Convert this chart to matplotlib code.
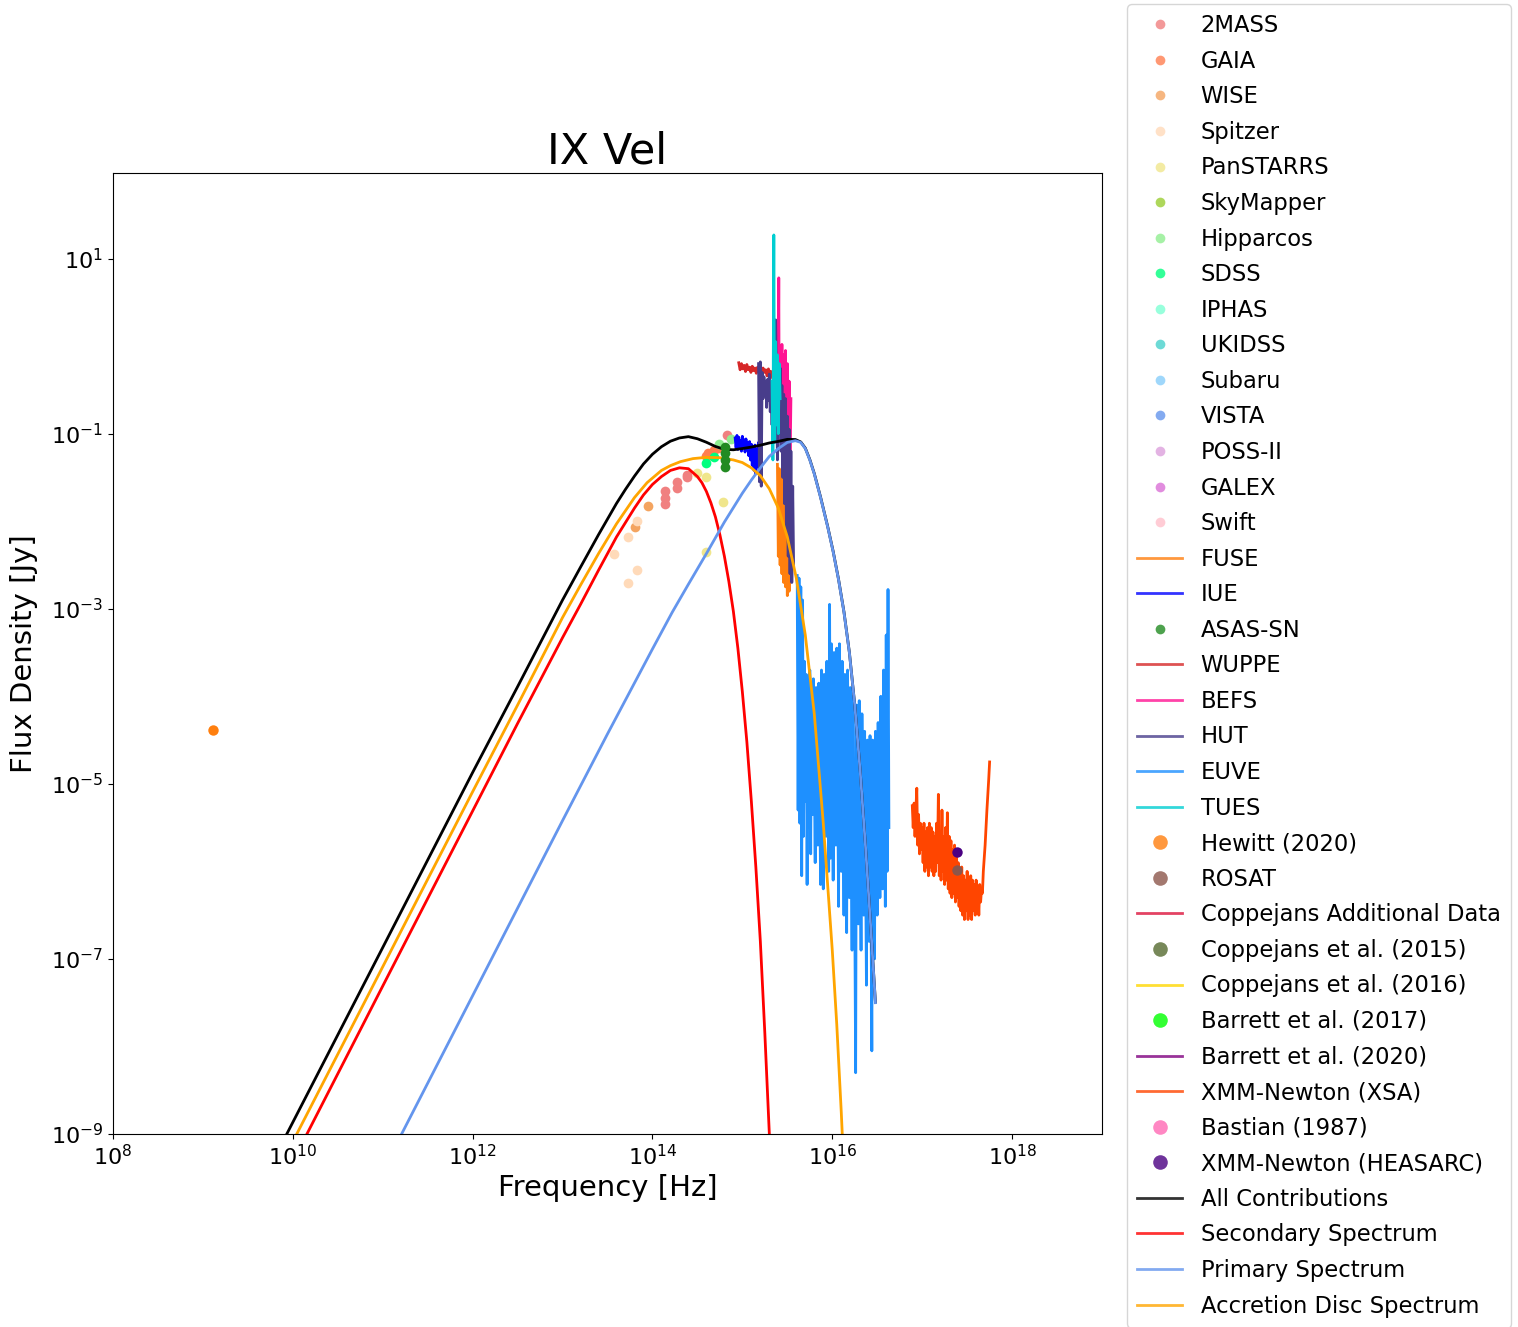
import numpy as np
import matplotlib
matplotlib.use("Agg")
import matplotlib.pyplot as plt
from matplotlib.ticker import FixedLocator, NullLocator, LogFormatterSciNotation

# ---------------------------------------------------------------------------
# Photometry (log10 frequency [Hz], log10 flux density [Jy])
# ---------------------------------------------------------------------------
twomass_lognu = [14.14, 14.14, 14.14, 14.27, 14.27, 14.38, 14.38, 14.83]
twomass_logf = [-1.66, -1.73, -1.80, -1.55, -1.62, -1.47, -1.50, -1.02]

gaia_lognu = [14.59, 14.62, 14.64, 14.68, 14.73]
gaia_logf = [-1.26, -1.22, -1.24, -1.19, -1.16]

wise_lognu = [13.81, 13.95]
wise_logf = [-2.07, -1.83]

spitzer_lognu = [13.57, 13.73, 13.83, 13.73, 13.83]
spitzer_logf = [-2.37, -2.18, -2.00, -2.71, -2.56]

panstarrs_lognu = [14.50, 14.60, 14.79, 14.60]
panstarrs_logf = [-1.45, -1.49, -1.78, -2.35]

hipparcos_lognu = [14.74, 14.87]
hipparcos_logf = [-1.12, -1.06]

sdss_lognu = [14.60, 14.68]
sdss_logf = [-1.34, -1.27]

asassn_lognu = [14.81, 14.81, 14.81, 14.81]
asassn_logf = [-1.15, -1.22, -1.30, -1.38]

hewitt_lognu = [9.11]
hewitt_logf = [-4.38]

rosat_lognu = [17.39]
rosat_logf = [-5.98]

heasarc_lognu = [17.39]
heasarc_logf = [-5.78]

# ---------------------------------------------------------------------------
# Spectra (log10 frequency [Hz], log10 flux density [Jy])
# ---------------------------------------------------------------------------
fuse_lognu = [15.39, 15.40, 15.41, 15.42, 15.43, 15.44, 15.45, 15.46, 15.47,
              15.48, 15.49, 15.50, 15.51, 15.52, 15.53]
fuse_logf = [-1.35, -2.40, -1.40, -2.50, -1.45, -2.60, -1.50, -2.70, -1.55,
             -2.75, -1.70, -2.85, -1.90, -2.80, -2.20]

iue_lognu = [14.92, 14.93, 14.94, 14.95, 14.96, 14.97, 14.98, 14.99, 15.00,
             15.01, 15.02, 15.03, 15.04, 15.05, 15.06, 15.07, 15.08, 15.09,
             15.10, 15.11, 15.12, 15.13, 15.14, 15.15, 15.16, 15.17, 15.18,
             15.19, 15.20]
iue_logf = [-1.05, -1.16, -1.02, -1.18, -1.04, -1.15, -1.08, -1.20, -1.03,
            -1.14, -1.07, -1.21, -1.06, -1.17, -1.10, -1.25, -1.09, -1.30,
            -1.12, -1.36, -1.15, -1.42, -1.13, -1.46, -1.18, -1.38, -1.10,
            -1.33, -1.08]

wuppe_lognu = [14.96, 14.975, 14.99, 15.005, 15.02, 15.035, 15.05, 15.065,
               15.08, 15.095, 15.11, 15.125, 15.14, 15.155, 15.17, 15.185,
               15.20, 15.215, 15.23, 15.245, 15.26, 15.275, 15.29, 15.305,
               15.32, 15.335]
wuppe_logf = [-0.19, -0.27, -0.20, -0.26, -0.22, -0.29, -0.21, -0.27, -0.24,
              -0.30, -0.23, -0.28, -0.25, -0.31, -0.24, -0.29, -0.26, -0.33,
              -0.25, -0.30, -0.27, -0.34, -0.26, -0.31, -0.29, -0.36]

befs_lognu = [15.400, 15.405, 15.41, 15.42, 15.43, 15.44, 15.45, 15.46, 15.47,
              15.48, 15.49, 15.50, 15.51, 15.52, 15.53, 15.54]
befs_logf = [-0.20, 0.78, -0.90, -0.05, -1.10, 0.02, -1.30, -0.10, -1.40,
             -0.05, -1.20, -0.20, -1.35, -0.40, -1.40, -0.60]

hut_lognu = [15.18, 15.19, 15.20, 15.21, 15.22, 15.23, 15.24, 15.25, 15.26,
             15.27, 15.28, 15.29, 15.30, 15.31, 15.32, 15.33, 15.34, 15.35,
             15.36, 15.37, 15.38, 15.39, 15.40, 15.41, 15.42, 15.43, 15.44,
             15.45, 15.46, 15.47, 15.48, 15.49, 15.50, 15.51, 15.52, 15.53,
             15.54, 15.55, 15.56, 15.57]
hut_logf = [-0.20, -1.55, -0.18, -1.60, -0.30, -0.60, -0.35, -0.55, -0.40,
            -0.70, -0.38, -0.62, -0.32, -0.75, -0.45, -0.90, -0.40, -1.10,
            -0.20, 0.30, -0.50, -1.30, -0.35, -1.00, -0.25, -1.20, -0.45,
            -1.50, -0.55, -1.80, -0.60, -2.10, -0.80, -2.40, -0.95, -2.60,
            -1.20, -2.70, -1.60, -2.50]

euve_lognu = [15.61, 15.62, 15.63, 15.64, 15.65, 15.66, 15.67, 15.68, 15.69,
              15.70, 15.71, 15.72, 15.73, 15.74, 15.75, 15.76, 15.77, 15.78,
              15.79, 15.81, 15.82, 15.84, 15.85, 15.87, 15.88, 15.90, 15.91,
              15.93, 15.94, 15.96, 15.97, 15.98, 15.99, 16.01, 16.02, 16.04,
              16.05, 16.07, 16.08, 16.10, 16.11, 16.13, 16.14, 16.16, 16.17,
              16.19, 16.20, 16.22, 16.23, 16.25, 16.26, 16.27, 16.29, 16.30,
              16.32, 16.33, 16.35, 16.36, 16.38, 16.39, 16.41, 16.42, 16.44,
              16.45, 16.47, 16.48, 16.50, 16.51, 16.53, 16.54, 16.56, 16.57,
              16.59, 16.60, 16.61, 16.62, 16.63]
euve_logf = [-2.62, -5.30, -2.65, -5.45, -2.75, -6.05, -2.90, -5.60, -3.60,
             -5.20, -3.75, -6.15, -3.80, -5.50, -3.70, -5.80, -3.85, -5.35,
             -3.80, -5.90, -3.90, -5.70, -3.85, -6.15, -3.70, -6.20, -3.75,
             -5.60, -3.60, -6.00, -2.95, -5.85, -3.40, -6.10, -3.50, -5.70,
             -3.45, -6.40, -3.40, -6.00, -3.60, -6.50, -3.75, -6.70, -3.70,
             -6.30, -3.90, -6.90, -4.00, -6.40, -8.30, -4.10, -6.60, -4.05,
             -6.90, -4.20, -6.50, -4.40, -7.30, -4.50, -6.80, -4.45, -8.05,
             -4.50, -7.00, -4.40, -6.50, -4.30, -6.30, -4.00, -6.20, -3.70,
             -6.40, -3.30, -6.00, -2.78, -5.50]

tues_lognu = [15.33, 15.34, 15.345, 15.35, 15.355, 15.36, 15.37, 15.38, 15.39,
              15.40, 15.41, 15.42]
tues_logf = [-0.40, -1.30, 0.10, 1.27, -0.20, -1.10, 0.05, -0.90, -0.10,
             -1.00, -0.20, -0.60]

xmm_lognu = [16.89, 16.90, 16.91, 16.92, 16.93, 16.94, 16.95, 16.96, 16.97,
             16.98, 16.99, 17.00, 17.01, 17.02, 17.03, 17.04, 17.05, 17.06,
             17.07, 17.08, 17.09, 17.10, 17.11, 17.12, 17.13, 17.14, 17.15,
             17.16, 17.17, 17.18, 17.19, 17.20, 17.21, 17.22, 17.23, 17.24,
             17.25, 17.26, 17.27, 17.28, 17.29, 17.30, 17.31, 17.32, 17.33,
             17.34, 17.35, 17.36, 17.37, 17.38, 17.39, 17.40, 17.41, 17.42,
             17.43, 17.44, 17.45, 17.46, 17.47, 17.48, 17.49, 17.50, 17.51,
             17.52, 17.53, 17.54, 17.55, 17.56, 17.57, 17.58, 17.59, 17.60,
             17.61, 17.62, 17.63, 17.64, 17.65, 17.66, 17.67, 17.68, 17.70,
             17.72, 17.74, 17.75]
xmm_logf = [-5.25, -5.50, -5.22, -5.60, -5.30, -5.05, -5.70, -5.35, -5.80,
            -5.45, -5.75, -5.50, -5.90, -5.45, -6.00, -5.55, -5.95, -5.50,
            -6.05, -5.45, -5.95, -5.50, -6.00, -5.55, -6.05, -5.60, -6.00,
            -5.45, -5.90, -5.12, -6.05, -5.55, -6.10, -5.30, -6.00, -5.60,
            -6.15, -5.50, -6.10, -5.33, -6.20, -5.60, -6.25, -5.65, -6.30,
            -5.75, -6.25, -5.70, -6.35, -5.80, -6.30, -5.90, -6.40, -6.00,
            -6.45, -5.95, -6.50, -6.05, -6.55, -6.10, -6.45, -6.00, -6.55,
            -6.10, -6.50, -6.05, -6.55, -6.10, -6.45, -6.15, -6.50, -6.10,
            -6.45, -6.20, -6.50, -6.15, -6.35, -6.20, -6.25, -6.00, -5.70,
            -5.30, -4.95, -4.75]

# ---------------------------------------------------------------------------
# Model components (log10 frequency [Hz], log10 flux density [Jy])
# ---------------------------------------------------------------------------
total_lognu = [9.933, 11.0, 12.0, 12.5, 13.0, 13.2, 13.4, 13.6, 13.7, 13.8,
               13.9, 14.0, 14.1, 14.2, 14.3, 14.4, 14.5, 14.6, 14.7, 14.8,
               14.9, 15.0, 15.1, 15.2, 15.3, 15.4, 15.5, 15.59, 15.65, 15.70,
               15.75, 15.80, 15.87, 15.95, 16.01, 16.07, 16.13, 16.19, 16.25,
               16.31, 16.37, 16.43, 16.48]
total_logf = [-9.00, -6.87, -4.87, -3.89, -2.90, -2.525, -2.154, -1.797,
              -1.636, -1.485, -1.346, -1.235, -1.149, -1.086, -1.049, -1.034,
              -1.058, -1.098, -1.146, -1.179, -1.184, -1.170, -1.153, -1.132,
              -1.106, -1.088, -1.065, -1.067, -1.095, -1.165, -1.295, -1.455,
              -1.725, -2.065, -2.345, -2.665, -3.035, -3.495, -4.095, -4.845,
              -5.715, -6.665, -7.495]

secondary_lognu = [10.157, 11.0, 12.0, 12.5, 13.0, 13.2, 13.4, 13.6, 13.8,
                   13.9, 14.0, 14.1, 14.2, 14.3, 14.4, 14.5, 14.55, 14.6,
                   14.65, 14.7, 14.75, 14.8, 14.85, 14.9, 14.95, 15.0, 15.05,
                   15.1, 15.15, 15.2, 15.25, 15.3]
secondary_logf = [-9.00, -7.31, -5.31, -4.31, -3.33, -2.95, -2.56, -2.18,
                  -1.85, -1.70, -1.58, -1.49, -1.42, -1.39, -1.40, -1.49,
                  -1.56, -1.66, -1.79, -1.95, -2.155, -2.40, -2.69, -3.03,
                  -3.45, -3.95, -4.52, -5.20, -5.95, -6.80, -7.85, -9.00]

primary_lognu = [11.21, 12.0, 13.0, 13.5, 14.0, 14.22, 14.4, 14.6, 14.8, 15.0,
                 15.1, 15.2, 15.3, 15.4, 15.5, 15.59, 15.65, 15.70, 15.75,
                 15.80, 15.87, 15.95, 16.01, 16.07, 16.13, 16.19, 16.25,
                 16.31, 16.37, 16.43, 16.48]
primary_logf = [-9.00, -7.42, -5.42, -4.43, -3.46, -3.04, -2.72, -2.37, -2.01,
                -1.68, -1.53, -1.39, -1.26, -1.17, -1.10, -1.08, -1.10, -1.17,
                -1.30, -1.46, -1.73, -2.07, -2.35, -2.67, -3.04, -3.50, -4.10,
                -4.85, -5.72, -6.67, -7.50]

disc_lognu = [10.044, 11.0, 12.0, 12.5, 13.0, 13.2, 13.4, 13.6, 13.8, 13.94,
              14.1, 14.2, 14.31, 14.45, 14.6, 14.75, 14.9, 15.0, 15.1, 15.2,
              15.3, 15.4, 15.5, 15.6, 15.7, 15.8, 15.9, 16.0, 16.05, 16.10,
              16.12]
disc_logf = [-9.00, -7.09, -5.09, -4.10, -3.10, -2.73, -2.37, -2.03, -1.73,
             -1.56, -1.42, -1.365, -1.32, -1.285, -1.27, -1.275, -1.30, -1.33,
             -1.39, -1.48, -1.63, -1.85, -2.18, -2.65, -3.30, -4.20, -5.45,
             -6.90, -7.75, -8.75, -9.20]


def lin(lognu, logf):
    return np.power(10.0, lognu), np.power(10.0, logf)


fig = plt.figure(figsize=(15.18, 13.27), dpi=100)
ax = fig.add_axes([113 / 1518, 1 - 1134 / 1327,
                   (1102 - 113) / 1518, (1134 - 173) / 1327])
ax.set_xscale("log")
ax.set_yscale("log")

handles = []
big_markers = []

# Photometric catalogues, in legend order
points = [
    ("2MASS", "lightcoral", twomass_lognu, twomass_logf),
    ("GAIA", "coral", gaia_lognu, gaia_logf),
    ("WISE", "sandybrown", wise_lognu, wise_logf),
    ("Spitzer", "peachpuff", spitzer_lognu, spitzer_logf),
    ("PanSTARRS", "khaki", panstarrs_lognu, panstarrs_logf),
    ("SkyMapper", "yellowgreen", [], []),
    ("Hipparcos", "lightgreen", hipparcos_lognu, hipparcos_logf),
    ("SDSS", "springgreen", sdss_lognu, sdss_logf),
    ("IPHAS", "aquamarine", [], []),
    ("UKIDSS", "mediumturquoise", [], []),
    ("Subaru", "lightskyblue", [], []),
    ("VISTA", "cornflowerblue", [], []),
    ("POSS-II", "plum", [], []),
    ("GALEX", "orchid", [], []),
    ("Swift", "pink", [], []),
]
for label, color, lx, ly in points:
    x, y = lin(lx, ly)
    h, = ax.plot(x, y, ls="none", marker="o", ms=7, color=color,
                 mec="none", label=label)
    handles.append(h)


def spectrum(label, color, lx, ly):
    x, y = lin(lx, ly)
    h, = ax.plot(x, y, color=color, lw=2, label=label)
    handles.append(h)


def photometry(label, color, lx, ly, big=True):
    x, y = lin(lx, ly)
    h, = ax.plot(x, y, ls="none", marker="o", ms=7.5 if big else 7,
                 color=color, mec="none", label=label, zorder=3)
    handles.append(h)
    if big:
        big_markers.append(len(handles) - 1)


spectrum("FUSE", "tab:orange", fuse_lognu, fuse_logf)
spectrum("IUE", "blue", iue_lognu, iue_logf)
photometry("ASAS-SN", "forestgreen", asassn_lognu, asassn_logf, big=False)
spectrum("WUPPE", "tab:red", wuppe_lognu, wuppe_logf)
spectrum("BEFS", "deeppink", befs_lognu, befs_logf)
spectrum("HUT", "darkslateblue", hut_lognu, hut_logf)
spectrum("EUVE", "dodgerblue", euve_lognu, euve_logf)
spectrum("TUES", "darkturquoise", tues_lognu, tues_logf)
photometry("Hewitt (2020)", "tab:orange", hewitt_lognu, hewitt_logf)
photometry("ROSAT", "tab:brown", rosat_lognu, rosat_logf)
spectrum("Coppejans Additional Data", "crimson", [], [])
photometry("Coppejans et al. (2015)", "darkolivegreen", [], [])
spectrum("Coppejans et al. (2016)", "gold", [], [])
photometry("Barrett et al. (2017)", "lime", [], [])
spectrum("Barrett et al. (2020)", "purple", [], [])
spectrum("XMM-Newton (XSA)", "orangered", xmm_lognu, xmm_logf)
photometry("Bastian (1987)", "hotpink", [], [])
photometry("XMM-Newton (HEASARC)", "indigo", heasarc_lognu, heasarc_logf)

# Model components
for label, color, lx, ly in [
    ("All Contributions", "black", total_lognu, total_logf),
    ("Secondary Spectrum", "red", secondary_lognu, secondary_logf),
    ("Primary Spectrum", "cornflowerblue", primary_lognu, primary_logf),
    ("Accretion Disc Spectrum", "orange", disc_lognu, disc_logf),
]:
    x, y = lin(lx, ly)
    h, = ax.plot(x, y, color=color, lw=2, label=label, zorder=2.5)
    handles.append(h)

ax.set_xlim(1e8, 1e19)
ax.set_ylim(1e-9, 95)
ax.xaxis.set_major_locator(FixedLocator([1e8, 1e10, 1e12, 1e14, 1e16, 1e18]))
ax.yaxis.set_major_locator(FixedLocator([1e-9, 1e-7, 1e-5, 1e-3, 1e-1, 1e1]))
ax.xaxis.set_major_formatter(LogFormatterSciNotation())
ax.yaxis.set_major_formatter(LogFormatterSciNotation())
ax.xaxis.set_minor_locator(NullLocator())
ax.yaxis.set_minor_locator(NullLocator())
ax.tick_params(labelsize=16)

ax.set_title("IX Vel", fontsize=31)
ax.set_xlabel("Frequency [Hz]", fontsize=21)
ax.set_ylabel("Flux Density [Jy]", fontsize=21, labelpad=9)

leg = fig.legend(handles, [h.get_label() for h in handles], loc="upper left",
                 bbox_to_anchor=(1127 / 1518, 1 - 4 / 1327),
                 bbox_transform=fig.transFigure, borderaxespad=0,
                 fontsize=16.3, numpoints=1, labelspacing=0.555,
                 borderpad=0.45)
for i, lh in enumerate(leg.legend_handles):
    lh.set_alpha(0.8)
    if i in big_markers:
        lh.set_markersize(10.5)

fig.savefig("out.png", dpi=100)
